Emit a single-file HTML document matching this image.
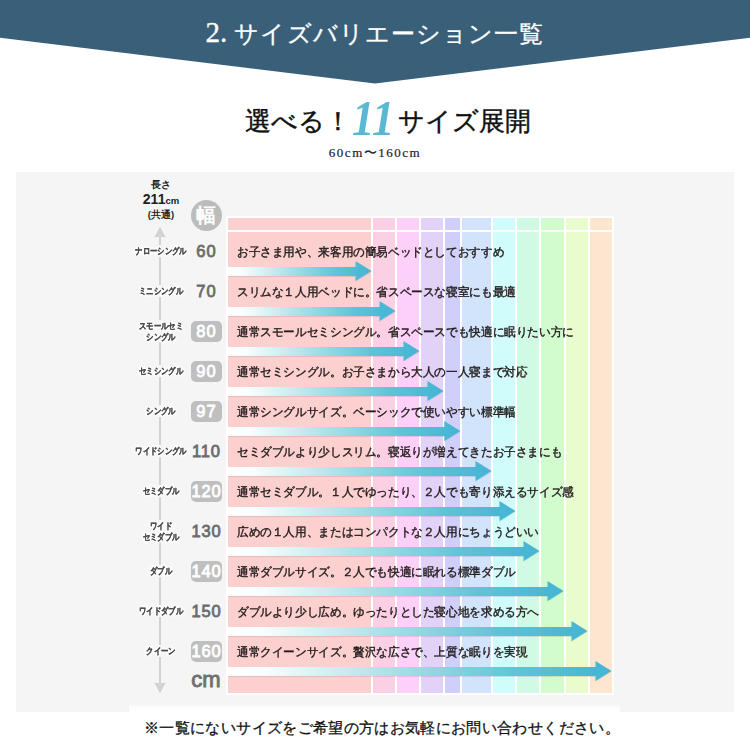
<!DOCTYPE html>
<html lang="ja"><head><meta charset="utf-8">
<style>
*{margin:0;padding:0;box-sizing:border-box}
html,body{width:750px;height:750px;overflow:hidden;background:#fff}
body{position:relative;font-family:"Liberation Sans",sans-serif;color:#222}
.serif{font-family:"Liberation Serif",serif}
#hdr{position:absolute;left:0;top:0}
#title{position:absolute;left:0;top:15px;width:750px;text-align:center;color:#fff;font-size:24px;letter-spacing:1.1px;-webkit-text-stroke:0.3px #fff;font-family:"Liberation Serif",serif;line-height:34px}
.sub{position:absolute;top:106px;font-family:"Liberation Serif",serif;font-size:26px;line-height:32px;color:#111;white-space:nowrap;-webkit-text-stroke:0.4px #111}
#sub1{left:245px}
#sub2{left:398px}
#n11{position:absolute;left:352px;top:93px;font-family:"Liberation Serif",serif;color:#5ab8d3;font-style:italic;font-weight:bold;font-size:50px;line-height:50px;transform:scaleX(0.9);transform-origin:0 0}
#range{position:absolute;left:0px;top:145px;width:750px;text-align:center;font-family:"Liberation Serif",serif;font-size:13px;line-height:16px;color:#222;letter-spacing:1.5px;-webkit-text-stroke:0.2px #222}
#box{position:absolute;left:16px;top:172px;width:718px;height:540px;background:#f5f5f5}
#frame{position:absolute;left:226px;top:216px;width:388px;height:479px;background:#fff}
.c{position:absolute;top:218px;height:475px}
#hline{position:absolute;left:226px;top:230px;width:388px;height:2px;background:#fff}
#arr{position:absolute;left:0;top:0}
.lab{position:absolute;left:111px;width:100px;text-align:center;font-size:9px;letter-spacing:0;transform:scaleX(0.82);transform-origin:50% 0;line-height:10.5px;font-weight:bold;color:#4a4a4a;-webkit-text-stroke:0.2px #4a4a4a;text-shadow:0 0 2px #fff,0 0 3px #fff,0 0 3px #fff,0 0 4px #fff,0 0 4px #fff,0 0 5px #fff,0 0 5px #fff,0 0 6px #fff}
.num{position:absolute;left:190.5px;width:31px;height:21px;text-align:center;font-size:16.5px;line-height:21.5px;letter-spacing:0.9px;text-indent:0.9px;font-weight:normal;-webkit-text-stroke:0.8px currentColor;color:#6c6c6c}
.num.bx{background:#bfbfbf;color:#fff;border-radius:5px}
.desc{position:absolute;left:237px;font-size:11.5px;transform:scaleX(0.968);transform-origin:0 0;font-weight:normal;line-height:16px;color:#221c1c;white-space:nowrap;-webkit-text-stroke:0.4px #221c1c}
#len{position:absolute;left:121px;top:178px;width:80px;text-align:center;font-weight:bold;color:#222}
#haba{position:absolute;left:190.5px;top:199.5px;width:31px;height:31px;border-radius:50%;background:#bcbcbc;color:#fff;font-size:20px;line-height:31px;text-align:center;font-weight:bold}
#cm{position:absolute;left:186px;top:668px;width:40px;text-align:center;font-size:22px;line-height:24px;font-weight:normal;-webkit-text-stroke:0.9px #707070;color:#707070}
#foot{position:absolute;left:129px;top:705px;width:491px;height:45px;background:linear-gradient(#f9f9f9,#fff 5px)}
#foottx{position:absolute;left:7px;top:719px;width:750px;text-align:center;font-family:"Liberation Serif",serif;font-size:15px;line-height:18px;letter-spacing:0.35px;color:#111;-webkit-text-stroke:0.3px #111}
</style></head><body>
<svg id="hdr" width="750" height="90"><polygon points="0,0 750,0 750,37.8 375,83.4 0,37.8" fill="#3a6079"/></svg>
<div id="title"><span style="font-size:29px;letter-spacing:0">2.</span> サイズバリエーション一覧</div>
<div id="sub1" class="sub">選べる！</div><div id="n11">11</div><div id="sub2" class="sub">サイズ展開</div>
<div id="range">60cm〜160cm</div>
<div id="box"></div>
<div id="frame"></div>
<div class="c" style="left:228px;width:143px;background:#fdd0d0"></div>
<div class="c" style="left:373px;width:22px;background:#fcd0e4"></div>
<div class="c" style="left:397px;width:22px;background:#fcd0f8"></div>
<div class="c" style="left:421px;width:22px;background:#e2d2f8"></div>
<div class="c" style="left:445px;width:15px;background:#cfcffa"></div>
<div class="c" style="left:462px;width:29px;background:#d1e4fc"></div>
<div class="c" style="left:493px;width:22px;background:#d0fcfc"></div>
<div class="c" style="left:517px;width:22px;background:#d0fae4"></div>
<div class="c" style="left:541px;width:23px;background:#d3fcce"></div>
<div class="c" style="left:566px;width:22px;background:#e8fcce"></div>
<div class="c" style="left:590px;width:22px;background:#fde6cf"></div>
<div id="hline"></div>
<svg id="arr" width="750" height="750">
<defs><filter id="sh" x="-5%" y="-50%" width="110%" height="200%"><feDropShadow dx="0" dy="0.8" stdDeviation="0.6" flood-color="#000" flood-opacity="0.12"/></filter></defs>
<path d="M228 267H355.5V261L371.5 271L355.5 281V276H228Z" fill="url(#g0)" filter="url(#sh)"/>
<linearGradient id="g0" gradientUnits="userSpaceOnUse" x1="228" y1="0" x2="371.5" y2="0"><stop offset="0" stop-color="#ffffff"/><stop offset="0.1" stop-color="#f8fdfd"/><stop offset="0.45" stop-color="#a3e0e6"/><stop offset="0.75" stop-color="#5ec5d6"/><stop offset="1" stop-color="#44b4d4"/></linearGradient>
<path d="M228 307H379.5V301L395.5 311L379.5 321V316H228Z" fill="url(#g1)" filter="url(#sh)"/>
<linearGradient id="g1" gradientUnits="userSpaceOnUse" x1="228" y1="0" x2="395.5" y2="0"><stop offset="0" stop-color="#ffffff"/><stop offset="0.1" stop-color="#f8fdfd"/><stop offset="0.45" stop-color="#a3e0e6"/><stop offset="0.75" stop-color="#5ec5d6"/><stop offset="1" stop-color="#44b4d4"/></linearGradient>
<path d="M228 347H403.5V341L419.5 351L403.5 361V356H228Z" fill="url(#g2)" filter="url(#sh)"/>
<linearGradient id="g2" gradientUnits="userSpaceOnUse" x1="228" y1="0" x2="419.5" y2="0"><stop offset="0" stop-color="#ffffff"/><stop offset="0.1" stop-color="#f8fdfd"/><stop offset="0.45" stop-color="#a3e0e6"/><stop offset="0.75" stop-color="#5ec5d6"/><stop offset="1" stop-color="#44b4d4"/></linearGradient>
<path d="M228 387H427.5V381L443.5 391L427.5 401V396H228Z" fill="url(#g3)" filter="url(#sh)"/>
<linearGradient id="g3" gradientUnits="userSpaceOnUse" x1="228" y1="0" x2="443.5" y2="0"><stop offset="0" stop-color="#ffffff"/><stop offset="0.1" stop-color="#f8fdfd"/><stop offset="0.45" stop-color="#a3e0e6"/><stop offset="0.75" stop-color="#5ec5d6"/><stop offset="1" stop-color="#44b4d4"/></linearGradient>
<path d="M228 427H444.29999999999995V421L460.29999999999995 431L444.29999999999995 441V436H228Z" fill="url(#g4)" filter="url(#sh)"/>
<linearGradient id="g4" gradientUnits="userSpaceOnUse" x1="228" y1="0" x2="460.29999999999995" y2="0"><stop offset="0" stop-color="#ffffff"/><stop offset="0.1" stop-color="#f8fdfd"/><stop offset="0.45" stop-color="#a3e0e6"/><stop offset="0.75" stop-color="#5ec5d6"/><stop offset="1" stop-color="#44b4d4"/></linearGradient>
<path d="M228 467H475.5V461L491.5 471L475.5 481V476H228Z" fill="url(#g5)" filter="url(#sh)"/>
<linearGradient id="g5" gradientUnits="userSpaceOnUse" x1="228" y1="0" x2="491.5" y2="0"><stop offset="0" stop-color="#ffffff"/><stop offset="0.1" stop-color="#f8fdfd"/><stop offset="0.45" stop-color="#a3e0e6"/><stop offset="0.75" stop-color="#5ec5d6"/><stop offset="1" stop-color="#44b4d4"/></linearGradient>
<path d="M228 507H499.5V501L515.5 511L499.5 521V516H228Z" fill="url(#g6)" filter="url(#sh)"/>
<linearGradient id="g6" gradientUnits="userSpaceOnUse" x1="228" y1="0" x2="515.5" y2="0"><stop offset="0" stop-color="#ffffff"/><stop offset="0.1" stop-color="#f8fdfd"/><stop offset="0.45" stop-color="#a3e0e6"/><stop offset="0.75" stop-color="#5ec5d6"/><stop offset="1" stop-color="#44b4d4"/></linearGradient>
<path d="M228 547H523.5V541L539.5 551L523.5 561V556H228Z" fill="url(#g7)" filter="url(#sh)"/>
<linearGradient id="g7" gradientUnits="userSpaceOnUse" x1="228" y1="0" x2="539.5" y2="0"><stop offset="0" stop-color="#ffffff"/><stop offset="0.1" stop-color="#f8fdfd"/><stop offset="0.45" stop-color="#a3e0e6"/><stop offset="0.75" stop-color="#5ec5d6"/><stop offset="1" stop-color="#44b4d4"/></linearGradient>
<path d="M228 587H547.5V581L563.5 591L547.5 601V596H228Z" fill="url(#g8)" filter="url(#sh)"/>
<linearGradient id="g8" gradientUnits="userSpaceOnUse" x1="228" y1="0" x2="563.5" y2="0"><stop offset="0" stop-color="#ffffff"/><stop offset="0.1" stop-color="#f8fdfd"/><stop offset="0.45" stop-color="#a3e0e6"/><stop offset="0.75" stop-color="#5ec5d6"/><stop offset="1" stop-color="#44b4d4"/></linearGradient>
<path d="M228 627H571.5V621L587.5 631L571.5 641V636H228Z" fill="url(#g9)" filter="url(#sh)"/>
<linearGradient id="g9" gradientUnits="userSpaceOnUse" x1="228" y1="0" x2="587.5" y2="0"><stop offset="0" stop-color="#ffffff"/><stop offset="0.1" stop-color="#f8fdfd"/><stop offset="0.45" stop-color="#a3e0e6"/><stop offset="0.75" stop-color="#5ec5d6"/><stop offset="1" stop-color="#44b4d4"/></linearGradient>
<path d="M228 667H595.5V661L611.5 671L595.5 681V676H228Z" fill="url(#g10)" filter="url(#sh)"/>
<linearGradient id="g10" gradientUnits="userSpaceOnUse" x1="228" y1="0" x2="611.5" y2="0"><stop offset="0" stop-color="#ffffff"/><stop offset="0.1" stop-color="#f8fdfd"/><stop offset="0.45" stop-color="#a3e0e6"/><stop offset="0.75" stop-color="#5ec5d6"/><stop offset="1" stop-color="#44b4d4"/></linearGradient>
<g stroke="#d2d2d2" stroke-width="2" fill="#d2d2d2">
<line x1="160" y1="236" x2="160" y2="245"/><line x1="160" y1="257" x2="160" y2="285"/><line x1="160" y1="297" x2="160" y2="320"/><line x1="160" y1="342" x2="160" y2="365"/><line x1="160" y1="377" x2="160" y2="405"/><line x1="160" y1="417" x2="160" y2="445"/><line x1="160" y1="457" x2="160" y2="485"/><line x1="160" y1="497" x2="160" y2="520"/><line x1="160" y1="542" x2="160" y2="565"/><line x1="160" y1="577" x2="160" y2="605"/><line x1="160" y1="617" x2="160" y2="645"/><line x1="160" y1="657" x2="160" y2="684"/>
<path d="M154.5 237L160 226.5L165.5 237Z" stroke="none"/>
<path d="M154.5 683L160 693.5L165.5 683Z" stroke="none"/>
</g>
</svg>
<div id="len"><div style="font-size:10px;line-height:14px">長さ</div><div style="font-size:14px;line-height:15px">211<span style="font-size:9.5px">cm</span></div><div style="font-size:9.5px;line-height:13px">(共通)</div></div>
<div id="haba">幅</div>
<div class="lab" style="top:246px">ナローシングル</div>
<div class="num" style="top:241px">60</div>
<div class="desc" style="top:244px">お子さま用や、来客用の簡易ベッドとしておすすめ</div>
<div class="lab" style="top:286px">ミニシングル</div>
<div class="num" style="top:281px">70</div>
<div class="desc" style="top:284px">スリムな１人用ベッドに。省スペースな寝室にも最適</div>
<div class="lab two" style="top:321px">スモールセミ<br>シングル</div>
<div class="num bx" style="top:321px">80</div>
<div class="desc" style="top:324px">通常スモールセミシングル。省スペースでも快適に眠りたい方に</div>
<div class="lab" style="top:366px">セミシングル</div>
<div class="num bx" style="top:361px">90</div>
<div class="desc" style="top:364px">通常セミシングル。お子さまから大人の一人寝まで対応</div>
<div class="lab" style="top:406px">シングル</div>
<div class="num bx" style="top:401px">97</div>
<div class="desc" style="top:404px">通常シングルサイズ。ベーシックで使いやすい標準幅</div>
<div class="lab" style="top:446px">ワイドシングル</div>
<div class="num" style="top:441px">110</div>
<div class="desc" style="top:444px">セミダブルより少しスリム。寝返りが増えてきたお子さまにも</div>
<div class="lab" style="top:486px">セミダブル</div>
<div class="num bx" style="top:481px">120</div>
<div class="desc" style="top:484px">通常セミダブル。１人でゆったり、２人でも寄り添えるサイズ感</div>
<div class="lab two" style="top:521px">ワイド<br>セミダブル</div>
<div class="num" style="top:521px">130</div>
<div class="desc" style="top:524px">広めの１人用、またはコンパクトな２人用にちょうどいい</div>
<div class="lab" style="top:566px">ダブル</div>
<div class="num bx" style="top:561px">140</div>
<div class="desc" style="top:564px">通常ダブルサイズ。２人でも快適に眠れる標準ダブル</div>
<div class="lab" style="top:606px">ワイドダブル</div>
<div class="num" style="top:601px">150</div>
<div class="desc" style="top:604px">ダブルより少し広め。ゆったりとした寝心地を求める方へ</div>
<div class="lab" style="top:646px">クイーン</div>
<div class="num bx" style="top:641px">160</div>
<div class="desc" style="top:644px">通常クイーンサイズ。贅沢な広さで、上質な眠りを実現</div>
<div id="cm">cm</div>
<div id="foot"></div>
<div id="foottx">※一覧にないサイズをご希望の方はお気軽にお問い合わせください。</div>
</body></html>
